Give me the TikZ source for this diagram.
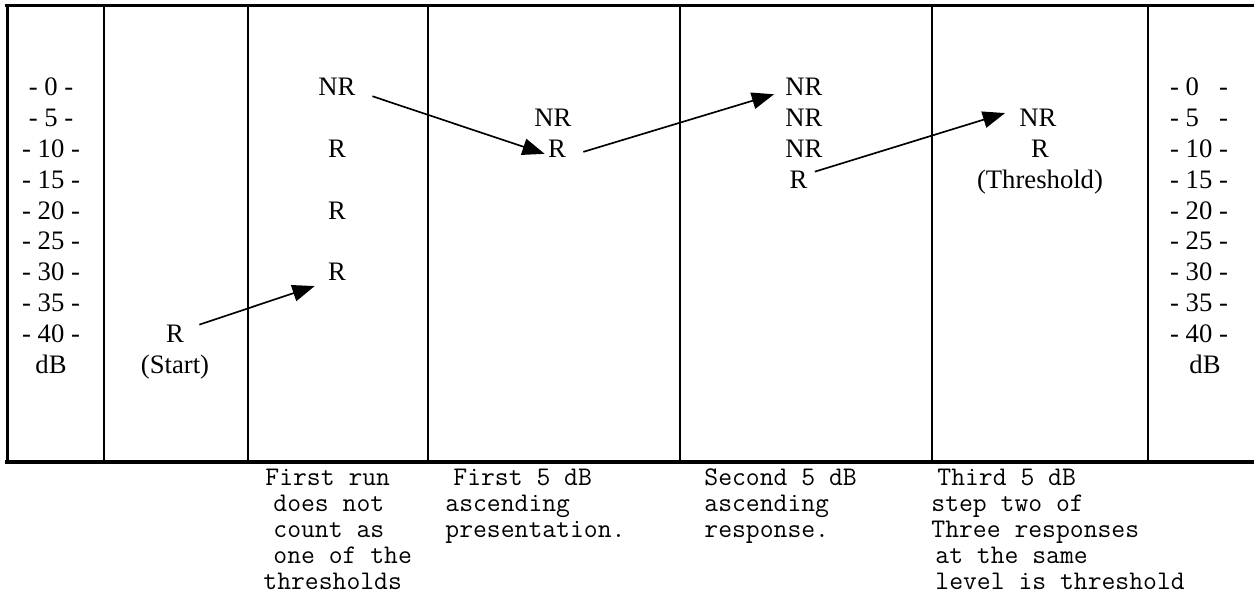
\documentclass[tikz,border=0pt]{standalone}
\usepackage{fontspec}
\setmainfont{Liberation Serif}
\usepackage{tikz}
\usetikzlibrary{arrows.meta,positioning}

\tikzset{
	lvl/.style={inner sep=0pt, anchor=base, font=\fontsize{12}{13.86}\selectfont},
	note/.style={inner sep=0pt, anchor=north west, align=left, font=\ttfamily\fontsize{12.1}{11.7}\selectfont},
	frame/.style={line width=1.4pt},
	divider/.style={line width=0.9pt},
	arr/.style={line width=0.75pt, -{Triangle[length=10pt,width=7.5pt]}}
}

\begin{document}
\begin{tikzpicture}[x=0.45pt,y=-0.45pt]
		\useasboundingbox (0,0) rectangle (1254,593);
		% table frame
		\draw[frame] (5,5.7) -- (1254,5.7);
		\draw[frame] (5,462) -- (1254,462);
		\draw[frame] (7.5,5.7) -- (7.5,462);
		\foreach \xc in {104,248,428,680,932,1148}
			\draw[divider] (\xc,5.7) -- (\xc,462);
		% dB scales
		\foreach \lv [count=\k from 0] in {0,5,...,40}
			\node[lvl] (lft\lv) at (51,96+30.8*\k) {- \lv\ -};
		\node[lvl] (lftdB) at (51,373.2) {dB};
		\foreach \lv [count=\k from 0] in {0,5,...,40}
			\node[lvl] (rgt\lv) at (1199,96+30.8*\k) {- \lv\ifnum\lv<10\phantom{0}\fi\ -};
		\node[lvl] (rgtdB) at (1205,373.2) {dB};
		% responses
		\node[lvl] (strR) at (175,342.4) {R};
		\node[lvl] (strtxt) at (175,373.2) {(Start)};
		\node[lvl] (runNR) at (337,96) {NR};
		\node[lvl] (runRa) at (337,157.6) {R};
		\node[lvl] (runRb) at (337,219.2) {R};
		\node[lvl] (runRc) at (337,280.8) {R};
		\node[lvl] (fstNR) at (553,126.8) {NR};
		\node[lvl] (fstR) at (557,157.6) {R};
		\node[lvl] (sndNRa) at (804,96) {NR};
		\node[lvl] (sndNRb) at (804,126.8) {NR};
		\node[lvl] (sndNRc) at (804,157.6) {NR};
		\node[lvl] (sndR) at (798.5,188.4) {R};
		\node[lvl] (trdNR) at (1038,126.8) {NR};
		\node[lvl] (trdR) at (1040,157.6) {R};
		\node[lvl] (trdtxt) at (1040,188.4) {(Threshold)};
		% steps
		\draw[arr] ([shift={(15,-9)}]strR.east) -- ([shift={(-13,14)}]runRc.west);
		\draw[arr] ([shift={(16.5,9)}]runNR.east) -- ([shift={(-3,5)}]fstR.west);
		\draw[arr] ([shift={(17,3)}]fstR.east) -- ([shift={(-11,7)}]sndNRa.west);
		\draw[arr] ([shift={(7,-8)}]sndR.east) -- ([shift={(-14,-5)}]trdNR.west);
		% notes under the table
		\node[note] (runnote) at (263,466.8) {\strut\hspace*{0.9pt}First run\\\hspace*{4.5pt}does not\\\hspace*{4.5pt}count as\\\hspace*{4.5pt}one of the\\thresholds};
		\node[note] (fstnote) at (445,466.8) {\strut\hspace*{3.6pt}First 5 dB\\ascending\\presentation.};
		\node[note] (sndnote) at (704,466.8) {\strut Second 5 dB\\ascending\\response.};
		\node[note] (trdnote) at (931,466.8) {\strut\hspace*{2.7pt}Third 5 dB\\step two of\\Three responses\\\hspace*{1.8pt}at the same\\\hspace*{1.8pt}level is threshold};
	\end{tikzpicture}
\end{document}
